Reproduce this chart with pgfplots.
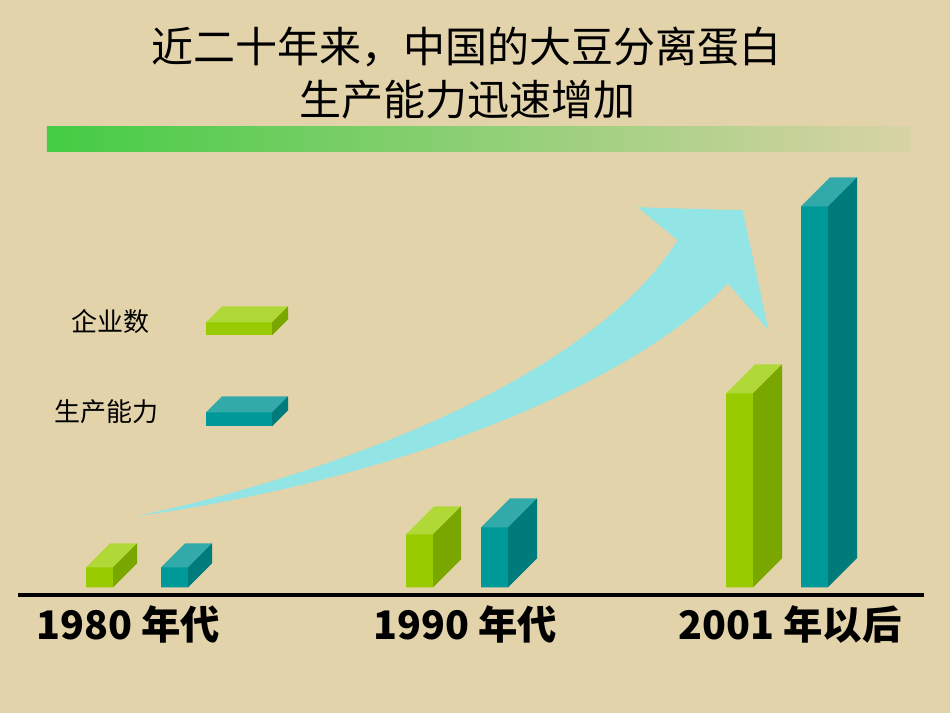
\documentclass[border=0pt]{standalone}
\usepackage{fontspec}
\setmainfont{Noto Sans CJK SC}
\usepackage{pgfplots}
\usepackage{pgfplotstable}
\pgfplotsset{compat=1.18}

\definecolor{bg}{HTML}{E3D3AB}
\definecolor{gfront}{HTML}{99CC00}
\definecolor{gtop}{HTML}{B0D836}
\definecolor{gside}{HTML}{7AA600}
\definecolor{tfront}{HTML}{009999}
\definecolor{ttop}{HTML}{33AAAA}
\definecolor{tside}{HTML}{007B7B}
\definecolor{arrowc}{HTML}{93E4E4}
\definecolor{gL}{HTML}{44CC44}
\definecolor{gR}{HTML}{D9D3A6}

% 3d box mark: front, top and side face, drawn from the top centre of the front
% \hh = height, \ww = width, \dd = depth (all in px, 1px = 0.01cm)
\newcommand\declarebox[4]{%
\pgfdeclareplotmark{#1}{%
  \pgfmathsetlengthmacro\hw{\ww*0.005cm}%
  \pgfmathsetlengthmacro\dpt{\dd*0.01cm}%
  \pgfmathsetlengthmacro\hpt{\hh*0.01cm}%
  \pgfpathrectanglecorners{\pgfpoint{-\hw}{-\hpt}}{\pgfpoint{\hw}{0pt}}%
  \pgfsetfillcolor{#2}\pgfusepath{fill}%
  \pgfpathmoveto{\pgfpoint{-\hw}{0pt}}%
  \pgfpathlineto{\pgfpoint{\hw}{0pt}}%
  \pgfpathlineto{\pgfpoint{\hw+\dpt}{\dpt}}%
  \pgfpathlineto{\pgfpoint{-\hw+\dpt}{\dpt}}%
  \pgfpathclose
  \pgfsetfillcolor{#3}\pgfusepath{fill}%
  \pgfpathmoveto{\pgfpoint{\hw}{0pt}}%
  \pgfpathlineto{\pgfpoint{\hw+\dpt}{\dpt}}%
  \pgfpathlineto{\pgfpoint{\hw+\dpt}{\dpt-\hpt}}%
  \pgfpathlineto{\pgfpoint{\hw}{-\hpt}}%
  \pgfpathclose
  \pgfsetfillcolor{#4}\pgfusepath{fill}%
}}
\declarebox{boxg}{gfront}{gtop}{gside}
\declarebox{boxt}{tfront}{ttop}{tside}

% firms (企业数)
\pgfplotstableread{
x h w d
0 20 27 24
1 53 27 28
2 194 27 29
}\firms
% capacity (生产能力)
\pgfplotstableread{
x h w d
0 20 27 24
1 60 27 29
2 381 27 29
}\capacity
% legend boxes
\pgfplotstableread{
x y h w d
0.31875 265 13 66 16
}\leggreen
\pgfplotstableread{
x y h w d
0.31875 175 14 66 16
}\legteal

\pgfplotsset{
  box3d/.style={scatter, only marks,
    scatter/@pre marker code/.code={}, scatter/@post marker code/.code={},
    visualization depends on={\thisrow{h} \as \hh},
    visualization depends on={\thisrow{w} \as \ww},
    visualization depends on={\thisrow{d} \as \dd}},
}

\begin{document}
\begin{tikzpicture}
\begin{axis}[
    scale only axis, width=9.5cm, height=7.13cm,
    xmin=-0.428125, xmax=2.540625, ymin=-126, ymax=587,
    axis background/.style={fill=bg},
    axis line style={draw=none}, major tick length=0pt,
    ytick=\empty,
    xtick={-0.028,1.025,2.0406},
    xticklabels={1980 年代, 1990 年代, 2001 年以后},
    xticklabel style={font=\bfseries\fontsize{11.2pt}{13pt}\selectfont,
      anchor=center, yshift=0.89cm},
    clip=false,
  ]
  \addplot[black, line width=0.04cm] coordinates {(-0.371875,-8) (2.459,-8)};

  \addplot[ybar, bar width=0.27cm, bar shift=-0.375cm, fill=gfront, draw=none]
    table[x=x, y=h] {\firms};
  \addplot[ybar, bar width=0.27cm, bar shift=0.375cm, fill=tfront, draw=none]
    table[x=x, y=h] {\capacity};
  \addplot[box3d, mark=boxg] table[x expr=\thisrow{x}-0.1171875, y=h] {\firms};
  \addplot[box3d, mark=boxt] table[x expr=\thisrow{x}+0.1171875, y=h] {\capacity};

  \addplot[box3d, mark=boxg] table[x=x, y=y] {\leggreen};
  \addplot[box3d, mark=boxt] table[x=x, y=y] {\legteal};
\end{axis}

% decoration in pixel units (origin top left)
\begin{scope}[x=0.01cm, y=-0.01cm, yshift=7.13cm]
  \shade[left color=gL, right color=gR] (47,126) rectangle (911,151);
  \fill[arrowc] (137,516) .. controls (330,475) and (590,380) .. (678,240)
    -- (638,207) -- (743,210) -- (769,330) -- (728,283)
    .. controls (640,380) and (400,480) .. (137,516) -- cycle;
  \node[font=\fontsize{11.95pt}{14pt}\selectfont] at (467,47) {近二十年来，中国的大豆分离蛋白};
  \node[font=\fontsize{11.95pt}{14pt}\selectfont] at (468,99) {生产能力迅速增加};
  \node[font=\fontsize{7.4pt}{9pt}\selectfont] at (111,321) {企业数};
  \node[font=\fontsize{7.4pt}{9pt}\selectfont] at (107,412) {生产能力};
\end{scope}
\end{tikzpicture}
\end{document}
